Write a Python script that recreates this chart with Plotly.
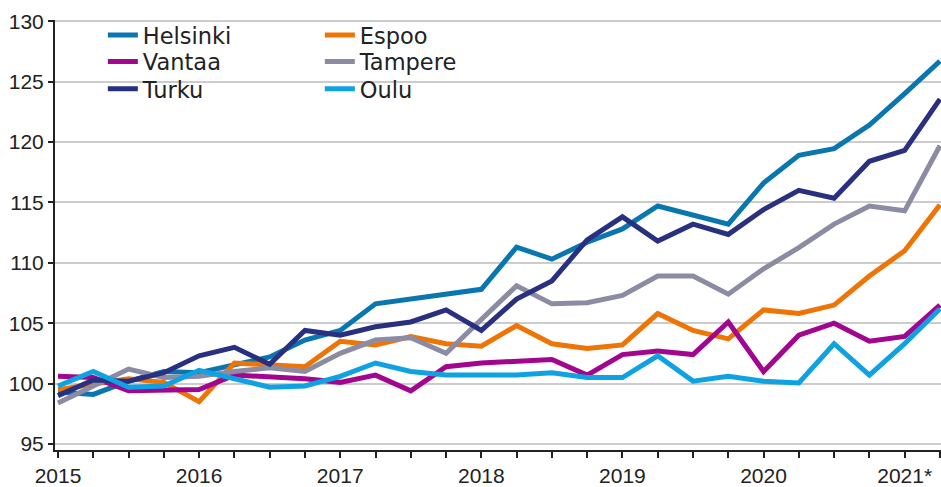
import plotly.graph_objects as go

# Quarterly categories 2015Q1 .. 2021Q2
quarters = ["2015Q1", "2015Q2", "2015Q3", "2015Q4",
            "2016Q1", "2016Q2", "2016Q3", "2016Q4",
            "2017Q1", "2017Q2", "2017Q3", "2017Q4",
            "2018Q1", "2018Q2", "2018Q3", "2018Q4",
            "2019Q1", "2019Q2", "2019Q3", "2019Q4",
            "2020Q1", "2020Q2", "2020Q3", "2020Q4",
            "2021Q1", "2021Q2"]

year_ticks = ["2015Q1", "2016Q1", "2017Q1", "2018Q1", "2019Q1", "2020Q1", "2021Q1"]
year_labels = ["2015", "2016", "2017", "2018", "2019", "2020", "2021*"]

helsinki = [99.3, 99.1, 100.2, 101.0, 100.9, 101.5, 102.2, 103.6, 104.4, 106.6, 107.0, 107.4, 107.8,
            111.3, 110.3, 111.7, 112.8, 114.7, 113.9, 113.2, 116.6, 118.9, 119.45, 121.4, 124.0, 126.7]
espoo = [99.5, 100.0, 100.4, 100.1, 98.5, 101.7, 101.5, 101.4, 103.5, 103.2, 103.9, 103.3, 103.1,
         104.8, 103.3, 102.9, 103.2, 105.8, 104.4, 103.7, 106.1, 105.8, 106.5, 108.9, 111.0, 114.8]
vantaa = [100.6, 100.5, 99.4, 99.4, 99.5, 100.7, 100.6, 100.4, 100.1, 100.7, 99.4, 101.4, 101.7,
          101.8, 102.0, 100.7, 102.4, 102.7, 102.4, 105.1, 101.0, 104.0, 105.0, 103.5, 103.9, 106.5]
tampere = [98.4, 99.8, 101.2, 100.5, 100.6, 101.0, 101.3, 101.0, 102.5, 103.6, 103.8, 102.5, 105.3,
           108.1, 106.6, 106.7, 107.3, 108.9, 108.9, 107.4, 109.5, 111.25, 113.2, 114.7, 114.3, 119.7]
turku = [99.0, 100.3, 100.2, 100.9, 102.3, 103.0, 101.6, 104.4, 104.0, 104.7, 105.1, 106.1, 104.4,
         107.0, 108.5, 111.9, 113.8, 111.8, 113.2, 112.35, 114.4, 116.0, 115.35, 118.4, 119.3, 123.55]
oulu = [99.8, 101.0, 99.7, 99.8, 101.1, 100.4, 99.7, 99.8, 100.6, 101.7, 101.0, 100.7, 100.7,
        100.7, 100.9, 100.5, 100.5, 102.3, 100.2, 100.6, 100.2, 100.05, 103.3, 100.7, 103.3, 106.2]

y_ticks = [95, 100, 105, 110, 115, 120, 125, 130]

# name, values, colour, legend (one horizontal legend per legend row)
series = [
    ("Helsinki", helsinki, "#0a76b0", "legend"),
    ("Espoo", espoo, "#ee7406", "legend"),
    ("Vantaa", vantaa, "#a2068f", "legend2"),
    ("Tampere", tampere, "#8b8ca3", "legend2"),
    ("Turku", turku, "#29307f", "legend3"),
    ("Oulu", oulu, "#0fa2e2", "legend3"),
]

fig = go.Figure()
for name, vals, color, leg in series:
    fig.add_trace(go.Scatter(
        x=quarters, y=vals, name=name, mode="lines",
        line=dict(color=color, width=5),
        legend=leg,
    ))

legend_font = dict(family="DejaVu Sans", size=22.5, color="#222222")


def leg(yc):
    return dict(orientation="h", x=0.054, y=yc, xanchor="left", yanchor="middle",
                bgcolor="rgba(0,0,0,0)", font=legend_font,
                entrywidth=172, entrywidthmode="pixels", itemwidth=30)


fig.update_layout(
    width=941, height=487,
    margin=dict(l=55, r=0, t=20, b=32),
    plot_bgcolor="white", paper_bgcolor="white",
    showlegend=True,
    legend=leg(0.964),
    legend2=leg(0.9028),
    legend3=leg(0.839),
    shapes=[dict(type="rect", xref="paper", yref="paper",
                 x0=0.003, x1=0.43, y0=0.79, y1=1.0,
                 fillcolor="white", line=dict(width=0), layer="between")],
)

fig.update_xaxes(
    type="category",
    categoryorder="array", categoryarray=quarters,
    range=[-0.085, 25.03],
    tickmode="array", tickvals=quarters,
    ticktext=[year_labels[year_ticks.index(q)] if q in year_ticks else "" for q in quarters],
    ticks="outside", ticklen=6, tickwidth=1.5, tickcolor="#222222",
    showline=True, linecolor="#222222", linewidth=2,
    showgrid=False, zeroline=False,
    tickfont=dict(family="Liberation Sans", size=21, color="#222222"),
)
fig.update_yaxes(
    range=[94.5, 130.1],
    tickmode="array", tickvals=y_ticks,
    ticks="outside", ticklen=5, tickwidth=1.5, tickcolor="#222222",
    showline=True, linecolor="#222222", linewidth=2,
    showgrid=True, gridcolor="#cccccc", gridwidth=1.5,
    zeroline=False,
    tickfont=dict(family="Liberation Sans", size=21, color="#222222"),
)

fig.write_html("out.html", config={"displayModeBar": False},
               post_script="document.body.style.margin='0';")
